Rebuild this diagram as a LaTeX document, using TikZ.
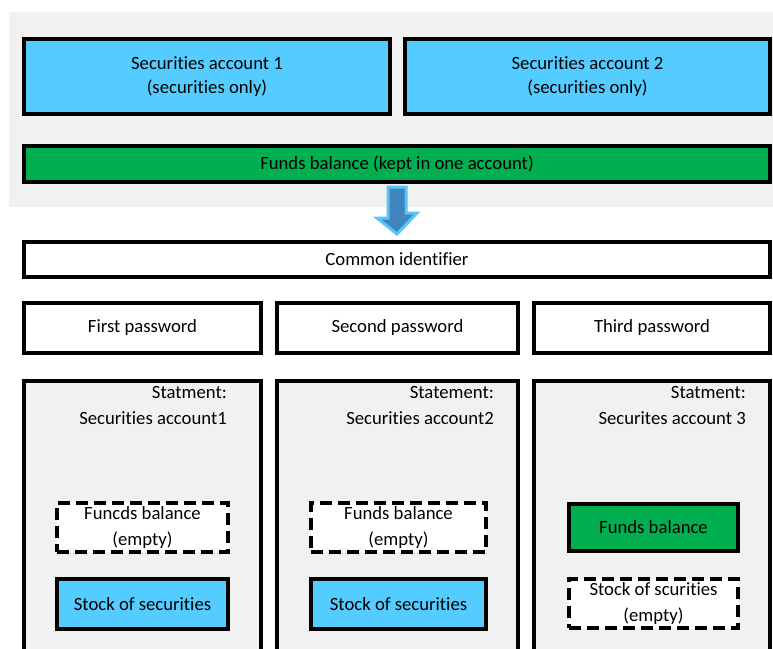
\documentclass[tikz,border=0pt]{standalone}
\usepackage{fontspec}
\setmainfont{Carlito}[Ligatures={NoCommon,NoRequired,NoContextual},Contextuals=NoAlternate]
\usepackage{tikz}
\usetikzlibrary{positioning}
\usetikzlibrary{calc}
\definecolor{secblue}{RGB}{85,204,255}
\definecolor{fundgreen}{RGB}{0,176,80}
\definecolor{panelgray}{RGB}{241,241,241}
\definecolor{arrowfill}{RGB}{64,132,192}
\definecolor{arrowline}{RGB}{90,196,245}
\tikzset{
  every node/.style={
    align=center,
    inner sep=0pt,
    font=\fontsize{18.7}{24}\selectfont,
  },
  box/.style={draw, line width=4pt},
  secbox/.style={box, fill=secblue},
  fundbox/.style={box, fill=fundgreen},
  plainbox/.style={box, fill=white},
  emptybox/.style={box, fill=white, dash pattern=on 12pt off 6pt,
    font=\fontsize{18.7}{26}\selectfont, execute at begin node={\rule{0pt}{19pt}}},
  panel/.style={box, fill=panelgray, anchor=north, minimum height=330pt},
  stmt/.style={anchor=north east, align=right, font=\fontsize{18.7}{26}\selectfont},
  bigarrow/.style={draw=arrowline, fill=arrowfill, line width=3pt, line join=miter},
}

\begin{document}
\begin{tikzpicture}[x=1pt,y=-1pt]
    \useasboundingbox (0,0) rectangle (773,648);
    \clip (0,0) rectangle (773,648);
    \fill[panelgray] (9,12) rectangle (773,207);
    \node[secbox, minimum width=366pt, minimum height=75pt] (sec1) at (207,76.5)
      {Securities account 1\\(securities only)};
    \node[secbox, minimum width=365pt, minimum height=75pt] (sec2) at (587.5,76.5)
      {Securities account 2\\(securities only)};
    \node[fundbox, minimum width=746pt, minimum height=36pt] (fund) at (397,164)
      {Funds balance (kept in one account)};
    \node[plainbox, minimum width=746pt, minimum height=35pt] (ident) at (397,259.5)
      {Common identifier};
    \node[plainbox, minimum width=237pt, minimum height=50pt] (pw1) at (142.5,328) {First password};
    \node[plainbox, minimum width=241pt, minimum height=50pt] (pw2) at (397.5,328) {Second password};
    \node[plainbox, minimum width=236pt, minimum height=50pt] (pw3) at (652,328) {Third password};
    \node[panel, minimum width=237pt] (st1) at (142.5,379) {};
    \node[panel, minimum width=241pt] (st2) at (397.5,379) {};
    \node[panel, minimum width=236pt] (st3) at (652,379) {};
    \node[stmt] (lbl1) at ([xshift=-36pt,yshift=-7pt]st1.north east) {Statment:\\Securities account1};
    \node[stmt] (lbl2) at ([xshift=-26pt,yshift=-7pt]st2.north east) {Statement:\\Securities account2};
    \node[stmt] (lbl3) at ([xshift=-26pt,yshift=-7pt]st3.north east) {Statment:\\Securites account 3};
    \node[emptybox, minimum width=171pt, minimum height=49pt] (fb1) at (142.5,527.5)
      {Funcds balance\\(empty)};
    \node[secbox, minimum width=171pt, minimum height=50pt] (sk1) at (142.5,604) {Stock of securities};
    \node[emptybox, minimum width=175pt, minimum height=49pt] (fb2) at (398.5,527.5)
      {Funds balance\\(empty)};
    \node[secbox, minimum width=175pt, minimum height=50pt] (sk2) at (398.5,604) {Stock of securities};
    \node[fundbox, minimum width=169pt, minimum height=47pt] (fb3) at (653.5,527.5) {Funds balance};
    \node[emptybox, minimum width=169pt, minimum height=49pt] (sk3) at (653.5,603.5)
      {Stock of scurities\\(empty)};
    \draw[bigarrow] ([xshift=-9pt,yshift=-3pt]fund.south) -- ++(0,31) -- ++(-11,0)
      -- ([yshift=6pt]ident.north) -- ++(20,-21) -- ++(-11,0)
      -- ([xshift=9pt,yshift=-3pt]fund.south) -- cycle;
  \end{tikzpicture}
\end{document}
